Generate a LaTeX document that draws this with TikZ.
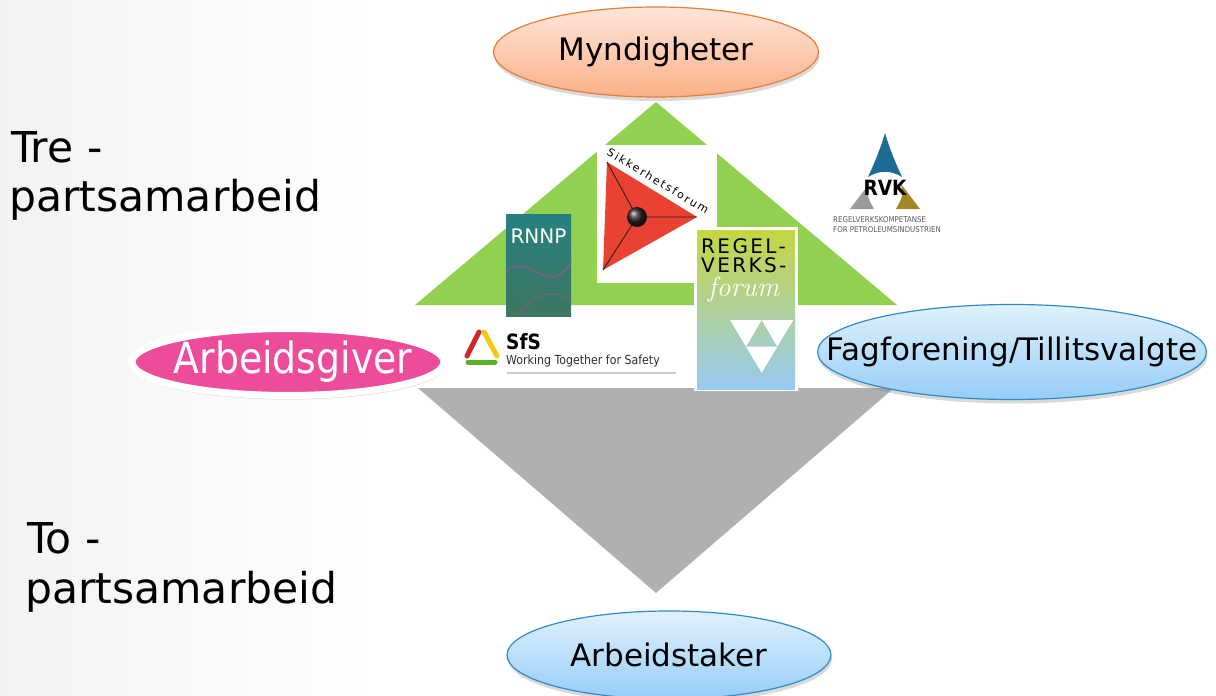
\documentclass[tikz,border=0pt]{standalone}
\usepackage{fontspec}
\newfontfamily\dejavu{DejaVu Sans}
\newfontfamily\dejavunarrow[FakeStretch=0.88]{DejaVu Sans}
\newfontfamily\dejavuspaced[LetterSpace=17]{DejaVu Sans}
\newfontfamily\regelfont[LetterSpace=12]{DejaVu Sans}
\usepackage{tikz}
\usetikzlibrary{shapes,shapes.geometric,shadows,positioning}

\definecolor{ppgreen}{RGB}{146,208,80}
\definecolor{ppgray}{RGB}{176,176,176}
\definecolor{myndline}{RGB}{237,125,49}
\definecolor{myndtop}{RGB}{254,230,218}
\definecolor{myndbot}{RGB}{251,176,136}
\definecolor{partline}{RGB}{46,140,200}
\definecolor{parttop}{RGB}{224,241,253}
\definecolor{partbot}{RGB}{150,205,248}
\definecolor{agpink}{RGB}{236,76,154}
\definecolor{sfred}{RGB}{234,66,50}
\definecolor{sfdark}{RGB}{50,30,30}
\definecolor{rnnptop}{RGB}{38,128,128}
\definecolor{rnnpbot}{RGB}{62,118,96}
\definecolor{rnnppink}{RGB}{170,80,150}
\definecolor{regtop}{RGB}{198,214,66}
\definecolor{regmid}{RGB}{176,212,168}
\definecolor{regbot}{RGB}{152,202,242}
\definecolor{sfsred}{RGB}{206,40,40}
\definecolor{sfsyellow}{RGB}{244,200,20}
\definecolor{sfsgreen}{RGB}{90,176,40}
\definecolor{sfstext}{RGB}{45,45,45}
\definecolor{rvkblue}{RGB}{28,108,150}
\definecolor{rvkgray}{RGB}{155,155,155}
\definecolor{rvkgold}{RGB}{160,136,40}

\begin{document}
\begin{tikzpicture}[x=1pt,y=-1pt,font=\dejavu]
\tikzset{party/.style ={ellipse, inner sep=0pt, line width=1.2pt,
    drop shadow={opacity=0.3,shadow xshift=1pt,shadow yshift=-4pt}},
  blueparty/.style ={party, draw=partline, top color=parttop, bottom color=partbot},
  big/.style ={font=\dejavu\fontsize{42.5}{50}\selectfont, anchor=base west, inner sep=0pt},
  mid/.style ={font=\dejavu\fontsize{31}{36}\selectfont}}
% \tikzstyle{logo}=[draw=white, line width=3pt]
\useasboundingbox (0,0) rectangle (1216,696);
\shade[left color=black!5, right color=white] (0,0) rectangle (380,696);
% the two triangles
\coordinate (gtop) at (656,102);
\coordinate (gleft) at (415,305);
\coordinate (gright) at (897,305);
\coordinate (bleft) at (418,388);
\coordinate (bright) at (894,388);
\coordinate (bbot) at (656,593);
\fill[ppgreen] (gleft) -- (gtop) -- (gright) -- cycle;
\fill[ppgray] (bleft) -- (bright) -- (bbot) -- cycle;
% Sikkerhetsforum
\fill[white] (597,145) rectangle (717,283);
\coordinate (sfa) at (607,162);
\coordinate (sfb) at (697,217);
\coordinate (sfc) at (603,270);
\coordinate (sfm) at (637,217);
\fill[sfred] (sfa) -- (sfb) -- (sfc) -- cycle;
\draw[sfdark, line width=0.9pt] (sfm) -- (sfa) (sfm) -- (sfb) (sfm) -- (sfc);
\shade[ball color=sfdark] (sfm) circle[radius=10pt];
\node[rotate=-31, font=\dejavuspaced\fontsize{11}{13}\selectfont, inner sep=0pt] (sftext) at (658,181) {Sikkerhetsforum};
% RNNP
\shade[top color=rnnptop, bottom color=rnnpbot] (506,214) rectangle (571,316);
\draw[rnnppink, opacity=0.5, line width=2pt] (506,272) .. controls (528,250) and (548,300) .. (571,262);
\draw[rnnppink, opacity=0.4, line width=1.5pt] (520,316) .. controls (530,290) and (560,290) .. (571,300);
\node[text=white, font=\dejavu\fontsize{20}{24}\selectfont, inner sep=0pt] (rnnp) at (538.5,236) {RNNP};
% Regelverksforum
\fill[white] (694,227) rectangle (798,391);
\shade[top color=regtop, middle color=regmid, bottom color=regbot] (697,230) rectangle (795,389);
\node[anchor=base west, font=\regelfont\fontsize{20}{24}\selectfont, inner sep=0pt] (regel) at (701,253) {REGEL-};
\node[anchor=base west, font=\regelfont\fontsize{20}{24}\selectfont, inner sep=0pt] (verks) at (701,272) {VERKS-};
\node[anchor=base west, text=white, font=\rmfamily\itshape\fontsize{28}{30}\selectfont, inner sep=0pt] (forum) at (708,296) {forum};
\fill[white] (730,320) -- (761.7,320) -- (746,346.7) -- cycle;
\fill[white] (761.7,320) -- (793.3,320) -- (777.3,346.7) -- cycle;
\fill[white] (746,346.7) -- (777.3,346.7) -- (761.7,372.7) -- cycle;
% SfS
\draw[sfsred, line width=5pt, line cap=round] (467,356) -- (479,332);
\draw[sfsyellow, line width=5pt, line cap=round] (484,332) -- (497,356);
\draw[sfsgreen, line width=5pt, line cap=round] (468,362) -- (495,362);
\node[anchor=base west, font=\dejavunarrow\bfseries\fontsize{21}{24}\selectfont, inner sep=0pt] (sfs) at (506,349) {SfS};
\node[anchor=base west, font=\dejavunarrow\fontsize{12.5}{14}\selectfont, inner sep=0pt, text=sfstext] (wtfs) at (506,364) {Working Together for Safety};
\draw[black!20, line width=2pt] (507,373) -- (676,373);
% RVK
\fill[rvkblue] (885,133) .. controls (880,150) and (874,164) .. (868,177) .. controls (879,170) and (891,170) .. (902,177) .. controls (896,164) and (890,150) .. (885,133) -- cycle;
\fill[rvkgray] (850,209) -- (869,184) .. controls (867,196) .. (874,209) -- cycle;
\fill[rvkgold] (920,209) -- (901,184) .. controls (903,196) .. (896,209) -- cycle;
\node[font=\dejavunarrow\bfseries\fontsize{21}{24}\selectfont, inner sep=0pt] (rvk) at (885,188) {RVK};
\node[anchor=west, align=left, font=\dejavunarrow\fontsize{8}{10}\selectfont, text=black!65, inner sep=0pt] (rvktext) at (833,225) {REGELVERKSKOMPETANSE\\FOR PETROLEUMSINDUSTRIEN};
% the parties
\node[party, draw=myndline, top color=myndtop, bottom color=myndbot, minimum width=325pt, minimum height=90pt, mid] (mynd) at (656,52) {\makebox[0pt]{Myndigheter}};
\node[party, draw=white, line width=7pt, fill=agpink, minimum width=312pt, minimum height=67pt, text=white, font=\dejavunarrow\fontsize{43}{48}\selectfont] (ag) at (288,362) {\makebox[0pt]{\hspace{10pt}Arbeidsgiver}};
\node[blueparty, minimum width=389pt, minimum height=95pt, mid] (fag) at (1012,352) {\makebox[0pt]{Fagforening/Tillitsvalgte}};
\node[blueparty, minimum width=324pt, minimum height=88pt, mid] (at) at (669,655) {\makebox[0pt]{Arbeidstaker}};
% left texts
\node[big] (tre) at (11,162) {Tre -};
\node[big] (tresub) at (9,211) {partsamarbeid};
\node[big] (to) at (27,553) {To -};
\node[big] (tosub) at (25,603) {partsamarbeid};
\end{tikzpicture}
\end{document}
